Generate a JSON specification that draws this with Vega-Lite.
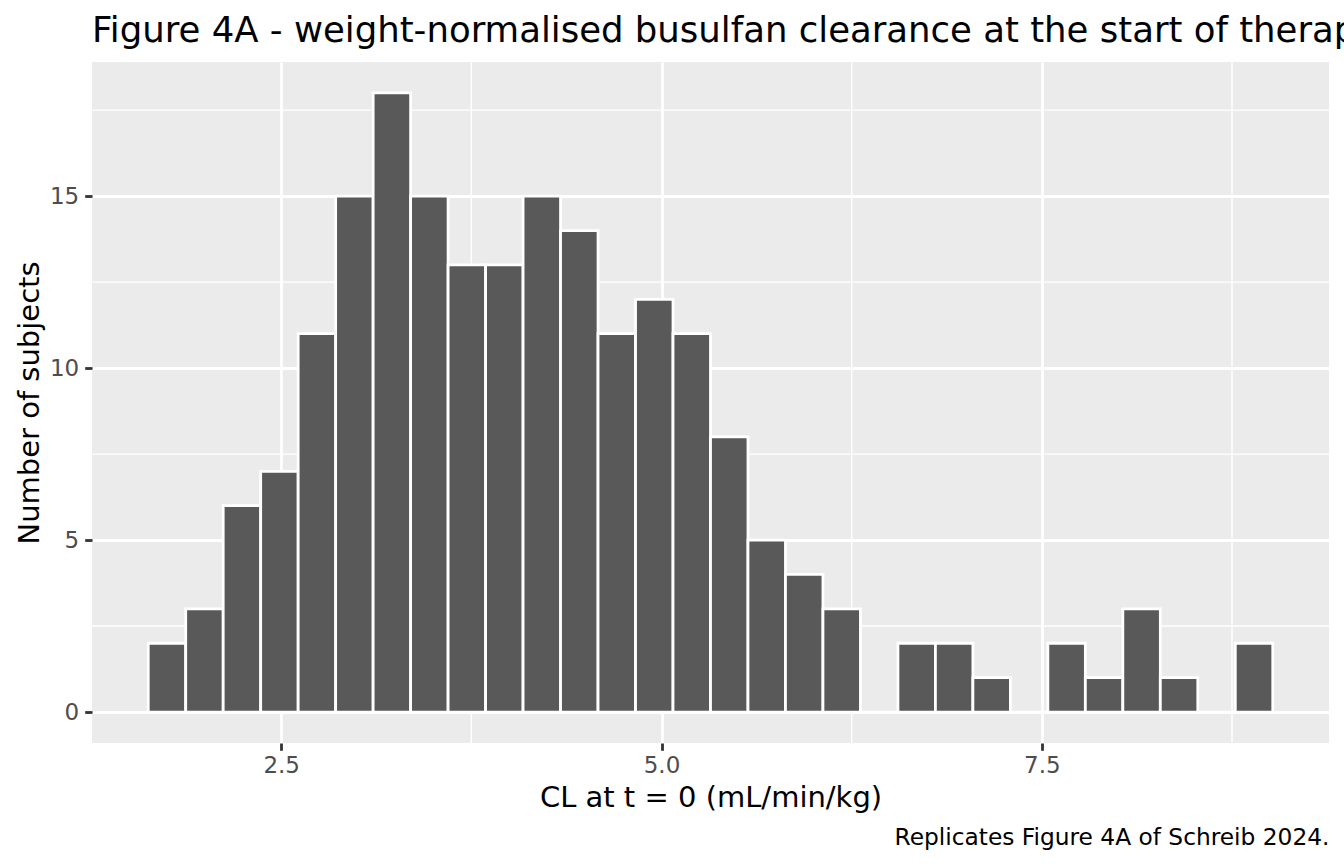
{
  "$schema": "https://vega.github.io/schema/vega-lite/v6.json",
  "description": "Histogram of weight-normalised busulfan clearance at t = 0",
  "autosize": "none",
  "width": 1237,
  "height": 681,
  "padding": {"left": 92, "top": 62, "right": 15, "bottom": 121},
  "background": "white",
  "title": {
    "text": "Figure 4A - weight-normalised busulfan clearance at the start of therapy",
    "anchor": "start",
    "frame": "group",
    "font": "DejaVu Sans",
    "fontSize": 35.5,
    "fontWeight": "normal",
    "color": "black",
    "baseline": "bottom",
    "offset": -23
  },
  "datasets": {
    "bins": [
      {"bin_start": 1.6260, "bin_end": 1.8724, "count": 2},
      {"bin_start": 1.8724, "bin_end": 2.1188, "count": 3},
      {"bin_start": 2.1188, "bin_end": 2.3652, "count": 6},
      {"bin_start": 2.3652, "bin_end": 2.6116, "count": 7},
      {"bin_start": 2.6116, "bin_end": 2.8580, "count": 11},
      {"bin_start": 2.8580, "bin_end": 3.1044, "count": 15},
      {"bin_start": 3.1044, "bin_end": 3.3508, "count": 18},
      {"bin_start": 3.3508, "bin_end": 3.5972, "count": 15},
      {"bin_start": 3.5972, "bin_end": 3.8436, "count": 13},
      {"bin_start": 3.8436, "bin_end": 4.0900, "count": 13},
      {"bin_start": 4.0900, "bin_end": 4.3364, "count": 15},
      {"bin_start": 4.3364, "bin_end": 4.5828, "count": 14},
      {"bin_start": 4.5828, "bin_end": 4.8292, "count": 11},
      {"bin_start": 4.8292, "bin_end": 5.0756, "count": 12},
      {"bin_start": 5.0756, "bin_end": 5.3220, "count": 11},
      {"bin_start": 5.3220, "bin_end": 5.5684, "count": 8},
      {"bin_start": 5.5684, "bin_end": 5.8148, "count": 5},
      {"bin_start": 5.8148, "bin_end": 6.0612, "count": 4},
      {"bin_start": 6.0612, "bin_end": 6.3076, "count": 3},
      {"bin_start": 6.3076, "bin_end": 6.5540, "count": 0},
      {"bin_start": 6.5540, "bin_end": 6.8004, "count": 2},
      {"bin_start": 6.8004, "bin_end": 7.0468, "count": 2},
      {"bin_start": 7.0468, "bin_end": 7.2932, "count": 1},
      {"bin_start": 7.2932, "bin_end": 7.5396, "count": 0},
      {"bin_start": 7.5396, "bin_end": 7.7860, "count": 2},
      {"bin_start": 7.7860, "bin_end": 8.0324, "count": 1},
      {"bin_start": 8.0324, "bin_end": 8.2788, "count": 3},
      {"bin_start": 8.2788, "bin_end": 8.5252, "count": 1},
      {"bin_start": 8.5252, "bin_end": 8.7716, "count": 0},
      {"bin_start": 8.7716, "bin_end": 9.0180, "count": 2}
    ],
    "minor_x": [{"v": 3.75}, {"v": 6.25}, {"v": 8.75}],
    "minor_y": [{"h": 2.5}, {"h": 7.5}, {"h": 12.5}, {"h": 17.5}]
  },
  "layer": [
    {
      "data": {"name": "minor_y"},
      "mark": {"type": "rule", "color": "white", "strokeWidth": 1.4},
      "encoding": {
        "y": {
          "field": "h",
          "type": "quantitative",
          "scale": {"domain": [-0.9, 18.9], "nice": false, "zero": false},
          "axis": {
            "title": "Number of subjects",
            "values": [0, 5, 10, 15],
            "format": "d",
            "labelPadding": 6,
            "titleBaseline": "alphabetic",
            "titlePadding": 11
          }
        }
      }
    },
    {
      "data": {"name": "minor_x"},
      "mark": {"type": "rule", "color": "white", "strokeWidth": 1.4},
      "encoding": {
        "x": {
          "field": "v",
          "type": "quantitative",
          "scale": {"domain": [1.2564, 9.3876], "nice": false, "zero": false},
          "axis": {
            "orient": "bottom",
            "title": "CL at t = 0 (mL/min/kg)",
            "values": [2.5, 5, 7.5],
            "format": ".1f",
            "labelBaseline": "alphabetic",
            "labelPadding": 22,
            "titleBaseline": "alphabetic",
            "titlePadding": 29
          }
        }
      }
    },
    {
      "data": {"name": "bins"},
      "mark": {"type": "bar", "fill": "#595959", "stroke": "white", "strokeWidth": 2.8},
      "encoding": {
        "x": {
          "field": "bin_start",
          "type": "quantitative",
          "scale": {"domain": [1.2564, 9.3876], "nice": false, "zero": false},
          "axis": {
            "orient": "bottom",
            "title": "Replicates Figure 4A of Schreib 2024.",
            "titleFontSize": 23.3,
            "titleAnchor": "end",
            "titleAlign": "right",
            "titleBaseline": "alphabetic",
            "titlePadding": 101,
            "labels": false,
            "ticks": false,
            "domain": false,
            "grid": false
          }
        },
        "x2": {"field": "bin_end"},
        "y": {
          "field": "count",
          "type": "quantitative",
          "scale": {"domain": [-0.9, 18.9], "nice": false, "zero": false},
          "axis": {
            "title": "Number of subjects",
            "values": [0, 5, 10, 15],
            "format": "d",
            "labelPadding": 6,
            "titleBaseline": "alphabetic",
            "titlePadding": 11
          }
        },
        "y2": {"datum": 0}
      }
    }
  ],
  "resolve": {"axis": {"x": "independent"}},
  "config": {
    "font": "DejaVu Sans",
    "view": {"fill": "#EBEBEB", "stroke": null},
    "axis": {
      "domain": false,
      "grid": true,
      "gridColor": "white",
      "gridWidth": 2.8,
      "tickColor": "#333333",
      "tickWidth": 2.8,
      "tickSize": 7.3,
      "labelColor": "#4D4D4D",
      "labelFont": "DejaVu Sans",
      "labelFontSize": 23,
      "titleFont": "DejaVu Sans",
      "titleFontSize": 29,
      "titleFontWeight": "normal",
      "titleColor": "black"
    }
  }
}
